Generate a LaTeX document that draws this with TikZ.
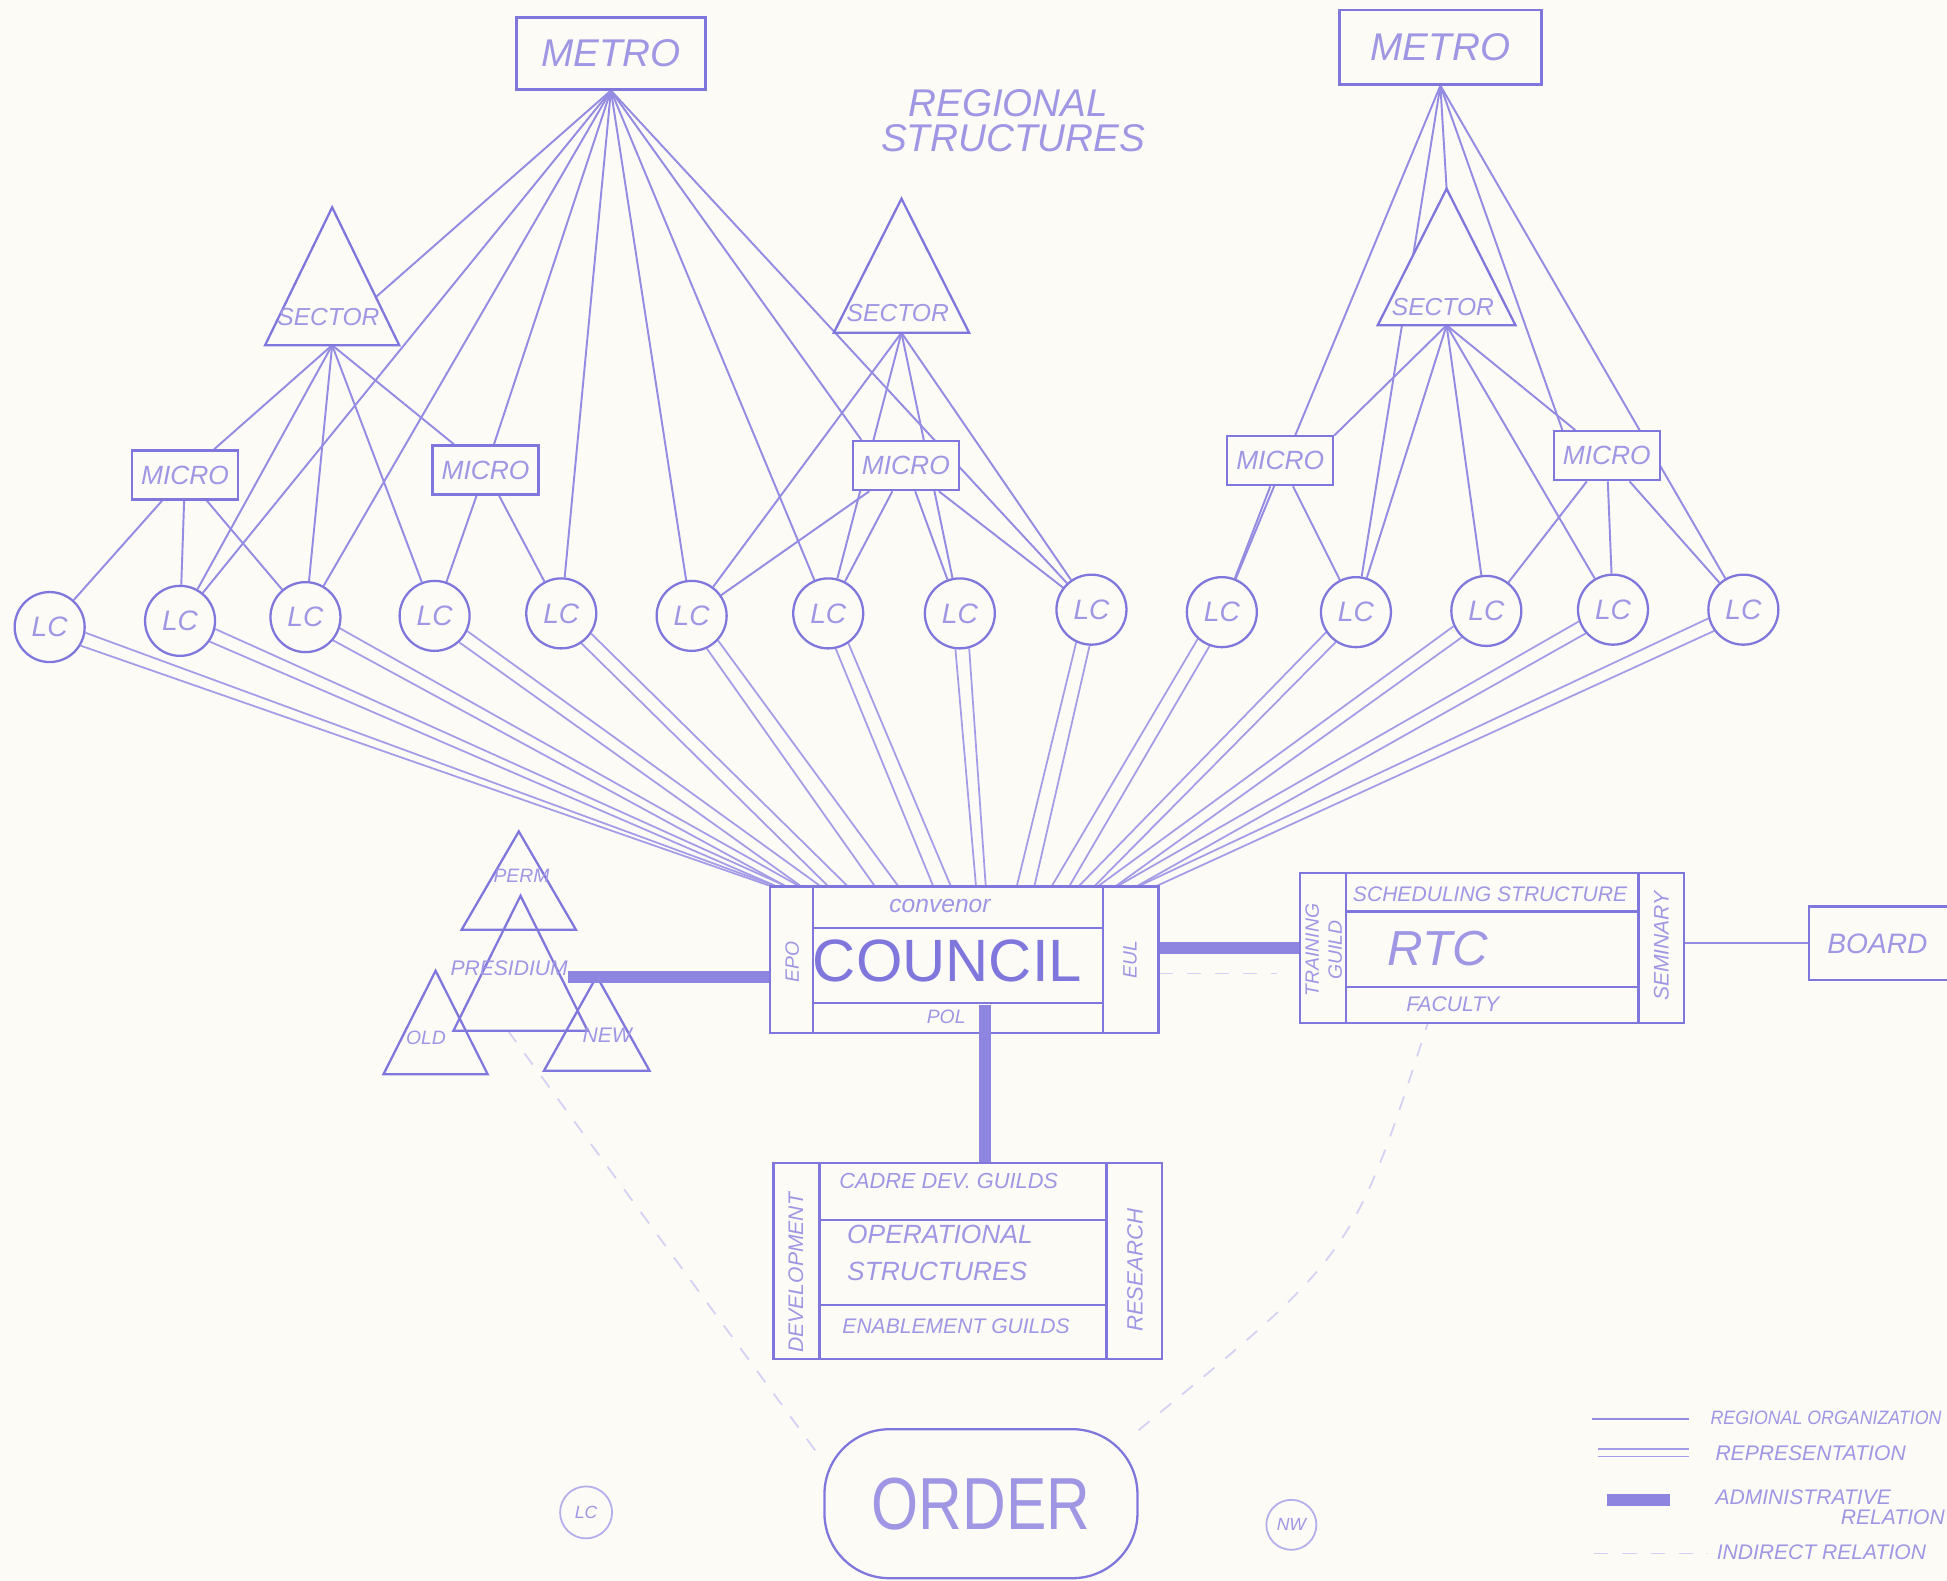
\documentclass[tikz,border=0pt]{standalone}
\usepackage{fontspec}
\setmainfont{Liberation Sans}
\usepackage{graphicx}
\usepackage{tikz}
\usetikzlibrary{calc}
\definecolor{regBlue}{HTML}{948BE3}
\definecolor{regInk}{HTML}{8077DD}
\definecolor{regText}{HTML}{9F97E4}
\definecolor{regPaper}{HTML}{FCFBF6}
\pgfdeclarelayer{back}
\pgfsetlayers{back,main}
\tikzset{
  rule/.style={draw=regInk,line width=0.65pt},
  frame/.style={rule,fill=regPaper,inner sep=0pt},
  regional/.style={draw=regBlue,line width=0.55pt},
  repr/.style={draw=regBlue!85,line width=0.5pt},
  admin/.style={draw=regInk!90,line width=3.4pt},
  indirect/.style={draw=regBlue!40,line width=0.5pt,dash pattern=on 4pt off 4pt},
  txt/.style={text=regText,inner sep=0pt,font=\fontsize{#1}{#1}\selectfont\itshape},
  lcnode/.style={frame,circle,minimum size=7mm,txt=8},
  micronode/.style={frame,minimum width=10.6mm,minimum height=4.9mm,txt=7.5}
}

\begin{document}
\begin{tikzpicture}[x=0.12417mm,y=-0.12417mm]
\useasboundingbox (0,0) rectangle (1568,1273);
\clip (0,0) rectangle (1568,1273);

% regional structures
\node[frame,minimum width=18.9mm,minimum height=7.2mm,txt=11] (metroL) at (492,43) {METRO};
\node[frame,minimum width=20.2mm,minimum height=7.45mm,txt=11] (metroR) at (1160,38) {METRO};
\node[txt=11] (title) at (812,83) {REGIONAL};
\node[txt=11] (title2) at (816,111) {STRUCTURES};

\foreach \n/\x/\ya/\yb/\w/\ty in {secL/267.5/167/278/54/255, secM/726/160/268/54.5/252, secR/1165/152/262/55.5/247} {
  \draw[frame] (\x,\ya) -- (\x+\w,\yb) -- (\x-\w,\yb) -- cycle;
  \coordinate (\n) at (\x,\yb);
  \coordinate (\n-top) at (\x,\ya);
  \node[txt=7] at (\x-3,\ty) {SECTOR};
}
\coordinate (secL-e) at (303,239);

\foreach \n/\x/\y in {micro1/149/382.5, micro2/391/378.5, micro3/729.5/375, micro4/1031/371, micro5/1294/367}
  \node[micronode] (\n) at (\x,\y) {MICRO};

\foreach \i/\x/\y in {1/40/505, 2/145/500, 3/246/497, 4/350/496, 5/452/494, 6/557/496, 7/667/494,
    8/773/494, 9/879/491, 10/984/493, 11/1092/493, 12/1197/492, 13/1299/491, 14/1404/491}
  \node[lcnode] (lc\i) at (\x,\y) {LC};

% council
\node[frame,minimum width=38.87mm,minimum height=14.65mm] (council) at (776.5,773) {};
\draw[rule] (655,714) -- (655,832) (888,714) -- (888,832) (655,747.5) -- (888,747.5) (655,807.5) -- (888,807.5);
\node[txt=7] (conv) at (757,730) {convenor};
\node[text=regInk,inner sep=0pt,font=\fontsize{17}{17}\selectfont] (cname) at (763,774) {COUNCIL};
\node[txt=5.5] (pol) at (762,819) {POL};
\node[txt=5.5,rotate=90] (eco) at (638,775) {EPO};
\node[txt=5.5,rotate=90] (eul) at (910,773) {EUL};

% training centre
\node[frame,minimum width=38.37mm,minimum height=14.97mm] (rtc) at (1201.5,763.3) {};
\draw[rule] (1084,703) -- (1084,823.6) (1319.5,703) -- (1319.5,823.6) (1084,734) -- (1319.5,734) (1084,794.6) -- (1319.5,794.6);
\node[txt=6] (sched) at (1200,720) {SCHEDULING STRUCTURE};
\node[txt=14] (rtcname) at (1158,764) {RTC};
\node[txt=6] (fac) at (1170,809) {FACULTY};
\node[txt=5.5,rotate=90,align=center] (guild) at (1066,765) {TRAINING\\[1pt]GUILD};
\node[txt=6,rotate=90] (sem) at (1338,762) {SEMINARY};

\node[frame,minimum width=26mm,minimum height=7.35mm,anchor=west] (board) at (1456,759.7) {};
\node[txt=8] (boardname) at (1512,760) {BOARD};

% operational structures
\node[frame,minimum width=38.87mm,minimum height=19.56mm] (ops) at (779.5,1015.5) {};
\draw[rule] (660,937) -- (660,1094) (891,937) -- (891,1094) (660,982.4) -- (891,982.4) (660,1051.2) -- (891,1051.2);
\node[txt=6.2] (cadre) at (764,951) {CADRE DEV. GUILDS};
\node[txt=7.5,align=left] (opname) at (757,1009) {OPERATIONAL\\[3pt]STRUCTURES};
\node[txt=6] (enab) at (770,1068) {ENABLEMENT GUILDS};
\node[txt=6,rotate=90] (dev) at (641,1025) {DEVELOPMENT};
\node[txt=6.3,rotate=90] (res) at (914,1023) {RESEARCH};

% presidium
\foreach \x/\ya/\yb/\w in {417.8/669.6/748.7/46, 419.2/721.4/830.1/54, 350.8/781.8/865.2/42, 480.6/786.2/862.3/42.5}
  \draw[rule] (\x,\ya) -- (\x+\w,\yb) -- (\x-\w,\yb) -- cycle;
\node[txt=5.5] (perm) at (420,705) {PERM};
\node[txt=6] (pres) at (410,780) {PRESIDIUM};
\node[txt=5.5] (old) at (343,836) {OLD};
\node[txt=6] (new) at (489,834) {NEW};
\coordinate (presfoot) at (409,830);

% order
\node[frame,rounded corners=6.5mm,minimum width=31.3mm,minimum height=14.9mm,txt=21,font=\fontsize{21}{21}\selectfont] (order) at (790,1211) {\scalebox{0.82}[1]{ORDER}};
\node[frame,draw=regBlue!70,line width=0.5pt,circle,minimum size=5.2mm,txt=5] (lcsmall) at (472,1218) {LC};
\node[frame,draw=regBlue!70,line width=0.5pt,circle,minimum size=5mm,txt=5] (nwsmall) at (1040,1228) {NW};

% administrative relations
\draw[admin] (pres.south east) -- (pres.south east -| council.west);
\draw[admin] (council.east |- rtc.west) -- (rtc.west);
\coordinate (polstem) at (793,809);
\draw[admin] (polstem) -- (polstem |- ops.north);
\draw[regional] (rtc.east |- board.west) -- (board.west);

\begin{pgfonlayer}{back}
\fill[regPaper] (0,0) rectangle (1568,1273);
\foreach \b in {secL-e,lc2,lc3,micro2,lc5,lc6,lc7,micro3.150,lc9} \draw[regional] (metroL.south) -- (\b);
\foreach \b in {micro1,lc2,lc3,lc4,micro2} \draw[regional] (secL) -- (\b);
\foreach \b in {lc1,lc2,lc3} \draw[regional] (micro1) -- (\b);
\foreach \b in {lc4,lc5} \draw[regional] (micro2) -- (\b);
\foreach \b in {lc6,lc7,lc8,lc9} \draw[regional] (secM) -- (\b);
\foreach \b in {lc6,lc7,lc8,lc9} \draw[regional] (micro3) -- (\b);
\foreach \b in {lc10,lc11,secR-top,micro5.150,lc14} \draw[regional] (metroR.south) -- (\b);
\foreach \b in {micro4.25,lc11,lc12,lc13,micro5} \draw[regional] (secR) -- (\b);
\foreach \b in {lc10,lc11} \draw[regional] (micro4) -- (\b);
\foreach \b in {lc12,lc13,lc14} \draw[regional] (micro5) -- (\b);

% representation
\foreach \i/\ang/\fl/\fr in {1/-20/0/0.012, 2/-24/0.015/0.04, 3/-29/0.04/0.075, 4/-36/0.08/0.13,
    5/-45/0.15/0.2, 6/-54/0.27/0.33, 7/-67/0.42/0.465, 8/-86/0.53/0.555, 9/-104/0.635/0.68,
    10/-121/0.725/0.77, 11/-135/0.795/0.835, 12/-144/0.845/0.89, 13/-150/0.895/0.945, 14/-155/0.95/0.995} {
  \pgfmathtruncatemacro\angA{\ang+11}
  \pgfmathtruncatemacro\angB{\ang-11}
  \draw[repr] (lc\i.\angA) -- ($(council.north west)!\fr!(council.north east)$);
  \draw[repr] (lc\i.\angB) -- ($(council.north west)!\fl!(council.north east)$);
}

% indirect
\draw[indirect] (presfoot) -- (order.165);
\coordinate (rtcfoot) at (1150,823.6);
\draw[indirect] (order.25) .. controls (1090,1010) .. (rtcfoot);
\coordinate (eulfoot) at (933,784);
\draw[indirect,shorten >=2.2mm] (eulfoot) -- (eulfoot -| rtc.west);
\end{pgfonlayer}

% legend
\draw[regional] (1282,1143) -- (1360,1143);
\draw[repr] (1287,1167) -- (1360,1167) (1287,1173) -- (1360,1173);
\draw[admin] (1294,1208) -- (1345,1208);
\draw[indirect] (1284,1251) -- (1375,1251);
\node[txt=5.5,anchor=west] (legA) at (1377,1142) {\scalebox{0.92}[1]{REGIONAL ORGANIZATION}};
\node[txt=6,anchor=west] (legB) at (1381,1170) {REPRESENTATION};
\node[txt=6,anchor=west] (legC) at (1381,1206) {ADMINISTRATIVE};
\node[txt=6,anchor=west] (legC2) at (1482,1222) {RELATION};
\node[txt=6,anchor=west] (legD) at (1382,1250) {INDIRECT RELATION};
\end{tikzpicture}
\end{document}
